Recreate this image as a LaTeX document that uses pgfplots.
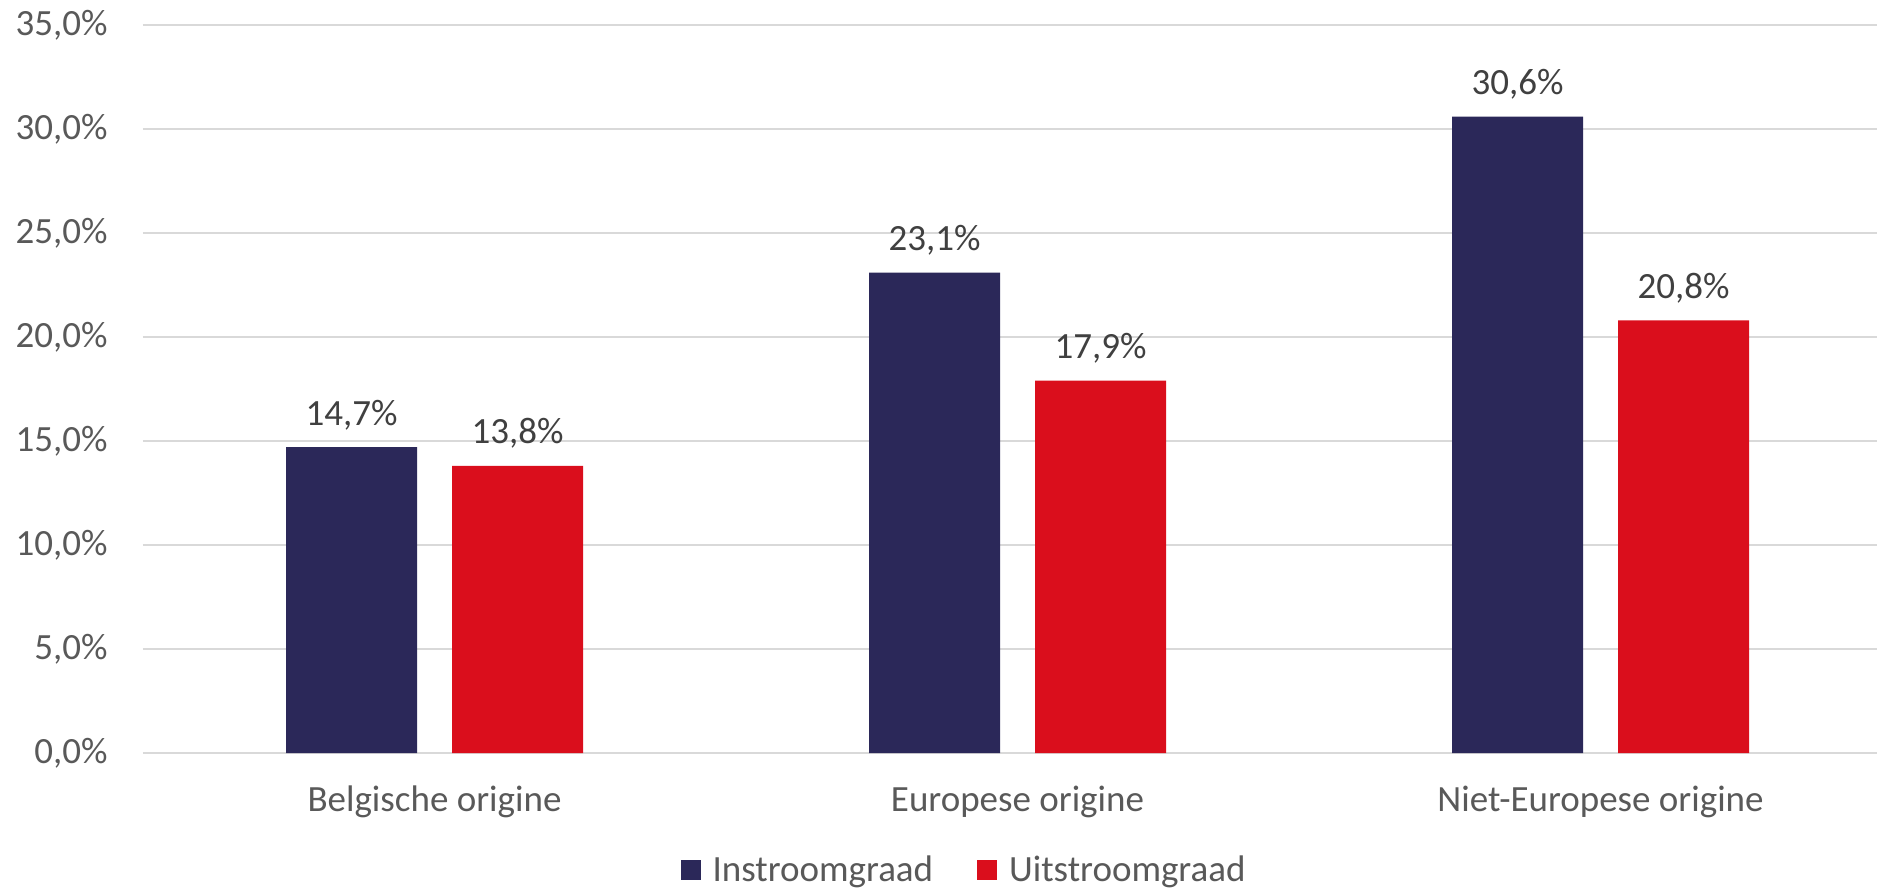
\documentclass[border=0pt]{standalone}
\usepackage{pgfplots}
\pgfplotsset{compat=1.18}
\usepackage{fontspec}
\setmainfont{Carlito}
\definecolor{instroom}{HTML}{2B2859}
\definecolor{uitstroom}{HTML}{DA0E1C}
\definecolor{gridgray}{HTML}{D9D9D9}
\definecolor{ticktext}{HTML}{595959}
\definecolor{labeltext}{HTML}{404040}
\newcommand{\chartfont}{\fontsize{18.5}{22}\selectfont}

\begin{document}
\begin{tikzpicture}
\useasboundingbox (-71.5pt,-67.5pt) rectangle (867pt,376.5pt);
\begin{axis}[
    at={(0,0)}, anchor=south west,
    scale only axis, width=874.5pt, height=364pt,
    /pgf/number format/assume math mode=true,
    xmin=-0.5, xmax=2.5, ymin=0, ymax=35,
    ytick={0,5,...,35},
    xtick={0,1,2},
    xticklabels={Belgische origine, Europese origine, Niet-Europese origine},
    ymajorgrids, major grid style={gridgray, line width=0.75pt},
    axis line style={draw=none},
    major tick length=0pt,
    tick style={draw=none},
    ticklabel style={font=\chartfont, text=ticktext, inner sep=0pt},
    yticklabel={\pgfmathprintnumber[fixed,fixed zerofill,precision=1,use comma]{\tick}\%},
    yticklabel style={anchor=east, xshift=-17.5pt},
    xticklabel style={anchor=base, yshift=-29pt},
    ybar, bar width=65.5pt,
    clip=false,
    nodes near coords={\pgfmathprintnumber[fixed,fixed zerofill,precision=1,use comma]{\pgfplotspointmeta}\%},
    nodes near coords style={font=\chartfont, text=labeltext, inner sep=0pt, anchor=base, yshift=11pt},
    legend style={at={(0.47,0)}, anchor=center, yshift=-58.5pt, draw=none,
        font=\chartfont, text=ticktext, legend columns=2,
        /tikz/every even column/.append style={column sep=20pt}},
    legend image code/.code={\fill[#1] (0pt,-5pt) rectangle (10pt,5pt); \path (14pt,0pt);},
]
\addplot[fill=instroom, draw=none, bar shift=-41.5pt] coordinates {(0,14.7) (1,23.1) (2,30.6)};
\addlegendentry{Instroomgraad}
\addplot[fill=uitstroom, draw=none, bar shift=41.5pt] coordinates {(0,13.8) (1,17.9) (2,20.8)};
\addlegendentry{Uitstroomgraad}
\end{axis}
\end{tikzpicture}
\end{document}
